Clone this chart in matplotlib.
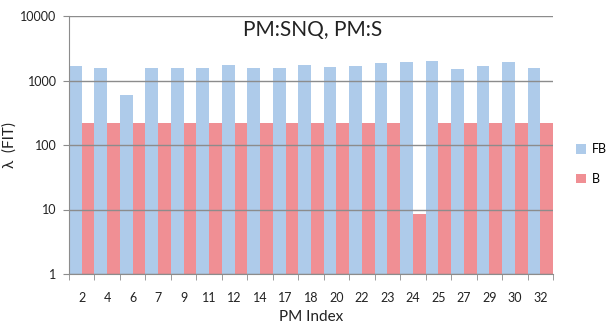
import numpy as np
import matplotlib
matplotlib.use("Agg")
import matplotlib.pyplot as plt
from matplotlib.ticker import FixedLocator, FixedFormatter

plt.rcParams['font.family'] = ['Lato', 'DejaVu Sans']

# PM index categories
pm_index = ['2', '4', '6', '7', '9', '11', '12', '14', '17', '18',
            '20', '22', '23', '24', '25', '27', '29', '30', '32']
# lambda (FIT) per series
fb_vals = [1680, 1540, 600, 1540, 1540, 1540, 1740, 1540, 1540, 1740,
           1600, 1680, 1840, 1910, 1980, 1520, 1680, 1910, 1540]
b_vals = [220, 220, 220, 220, 220, 220, 220, 220, 220, 220,
          220, 220, 220, 8.5, 220, 220, 220, 220, 220]

fb_color = '#AECBEA'
b_color = '#F08F94'
grid_color = '#8C8C8C'

fig = plt.figure(figsize=(6.07, 3.30), dpi=100)
ax = fig.add_axes([69/607, 56/330, 484/607, 258/330])

x = np.arange(len(pm_index))
ax.bar(x - 0.25, fb_vals, width=0.5, color=fb_color, label='FB', zorder=1)
ax.bar(x + 0.25, b_vals, width=0.5, color=b_color, label='B', zorder=1)

ax.set_yscale('log')
ax.set_ylim(1, 10000)
ax.set_xlim(-0.5, len(pm_index) - 0.5)

ax.yaxis.set_major_locator(FixedLocator([1, 10, 100, 1000, 10000]))
ax.yaxis.set_major_formatter(FixedFormatter(['1', '10', '100', '1000', '10000']))
ax.yaxis.set_minor_locator(FixedLocator([]))
ax.grid(axis='y', color=grid_color, linewidth=1, zorder=2)
ax.set_axisbelow(False)

ax.set_xticks(x)
ax.set_xticklabels(pm_index)
ax.set_xticks(np.arange(-0.5, len(pm_index)), minor=True)
ax.tick_params(axis='x', which='major', length=0, pad=13, labelsize=9, labelcolor='#222222')
ax.tick_params(axis='x', which='minor', length=4, color=grid_color, direction='out')
ax.tick_params(axis='y', which='major', length=4, color=grid_color, pad=5, labelsize=9, labelcolor='#222222')

for s in ['top', 'right']:
    ax.spines[s].set_visible(False)
ax.spines['left'].set_color(grid_color)
ax.spines['bottom'].set_color(grid_color)

ax.set_xlabel('PM Index', fontsize=11, color='#222222', labelpad=4)
ax.set_ylabel('λ  (FIT)', fontsize=11, color='#222222')
ax.yaxis.set_label_coords(-0.107, 0.5)

fig.text(313/607, 1 - 30/330, 'PM:SNQ, PM:S', ha='center', va='center',
         fontsize=15, color='#222222')

fig.legend(loc='center left', bbox_to_anchor=(576/607, 166/330), frameon=False,
           borderpad=0, borderaxespad=0,
           handlelength=0.8, handleheight=0.8, handletextpad=0.5,
           labelspacing=1.4, fontsize=9)

fig.savefig('out.png', dpi=100)
